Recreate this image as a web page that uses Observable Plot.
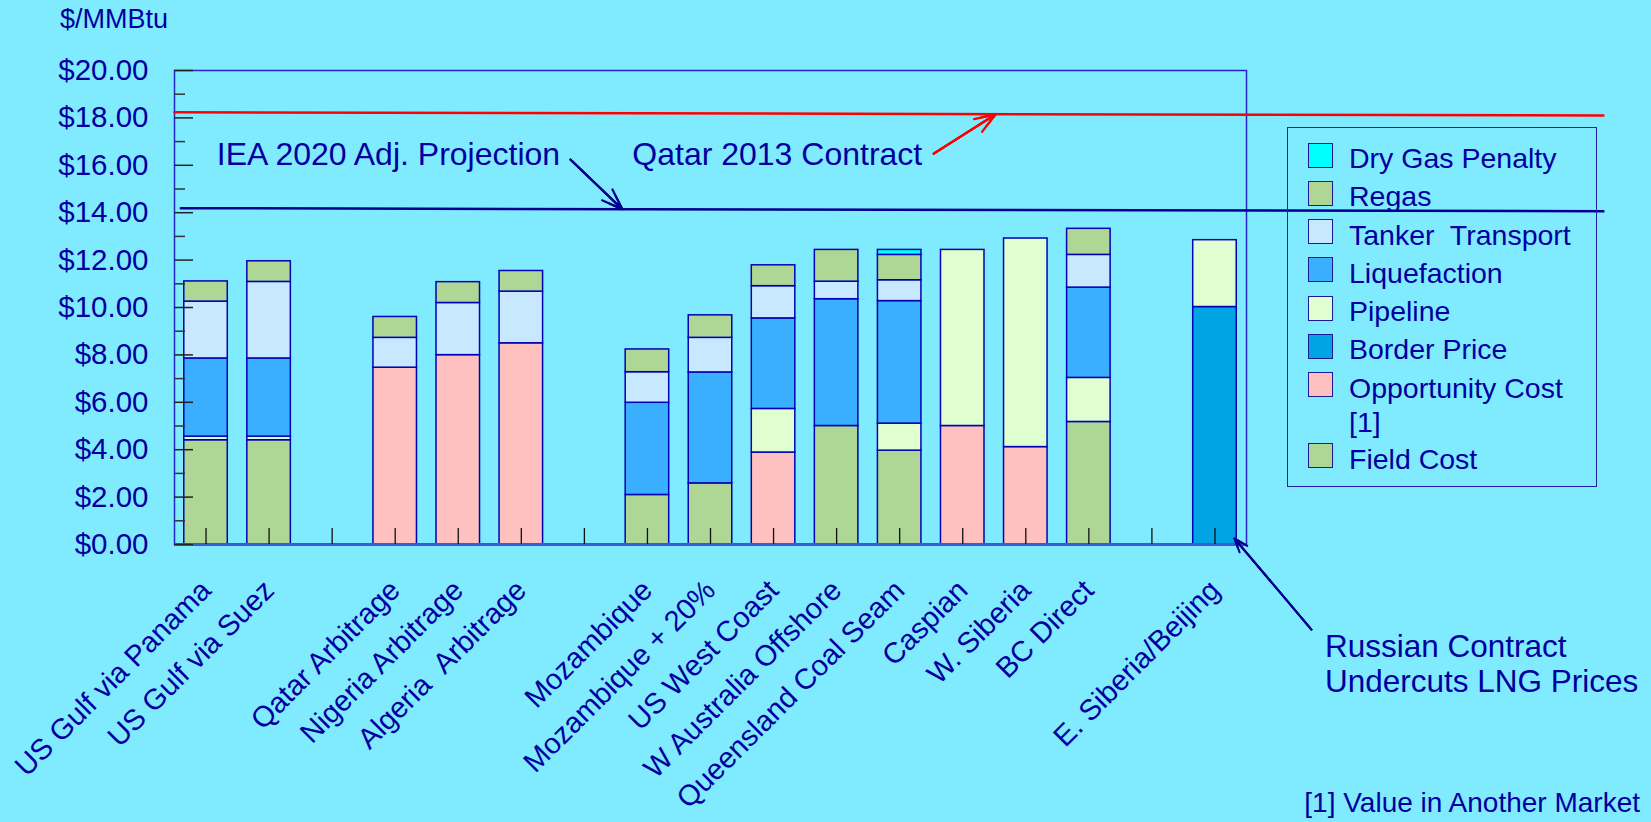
<!DOCTYPE html>
<html><head><meta charset="utf-8">
<script src="https://cdn.jsdelivr.net/npm/d3@7"></script>
<script src="https://cdn.jsdelivr.net/npm/@observablehq/plot@0.6"></script>
<style>
html,body{margin:0;padding:0;background:#80ebff;}
#wrap{position:relative;width:1651px;height:822px;overflow:hidden;font-family:"Liberation Sans",Arial,sans-serif;color:#0000a0;background:#80ebff;}
#chart{position:absolute;left:0;top:0;}
.abs{position:absolute;white-space:pre;}
#legend{position:absolute;left:1287px;top:127px;width:310px;height:360px;border:1.5px solid #2020a8;box-sizing:border-box;}
.sw{position:absolute;left:20px;width:25px;height:25px;box-sizing:border-box;border:1.5px solid #1a1a9a;}
.lt{position:absolute;left:61px;font-size:28.5px;line-height:34px;white-space:pre;}
</style></head>
<body><div id="wrap"><div id="chart"></div>
<div class="abs" style="left:60px;top:4px;font-size:27px;">$/MMBtu</div>
<div id="legend"></div>
<div class="abs" style="left:1325px;top:629px;font-size:31.5px;line-height:35px;">Russian Contract
Undercuts LNG Prices</div>
<div class="abs" style="right:11px;top:787px;font-size:28px;line-height:1.149;">[1] Value in Another Market</div>
</div>
<script>
// ---- data ----
const categories = ["US Gulf via Panama","US Gulf via Suez","","Qatar Arbitrage","Nigeria Arbitrage","Algeria \u00a0Arbitrage","","Mozambique","Mozambique + 20%","US West Coast","W Australia Offshore","Queensland Coal Seam","Caspian","W. Siberia","BC Direct","","E. Siberia/Beijing"];
const fieldCost       = [4.40,4.40,0,0,0,0,0,2.09,2.58,0,5.00,3.96,0,0,5.17,0,0];
const opportunityCost = [0,0,0,7.46,7.99,8.49,0,0,0,3.88,0,0,5.00,4.11,0,0,0];
const borderPrice     = [0,0,0,0,0,0,0,0,0,0,0,0,0,0,0,0,10.02];
const pipeline        = [0.15,0.15,0,0,0,0,0,0,0,1.84,0,1.14,7.43,8.80,1.86,0,2.82];
const liquefaction    = [3.30,3.30,0,0,0,0,0,3.89,4.68,3.82,5.35,5.17,0,0,3.81,0,0];
const tankerTransport = [2.40,3.23,0,1.26,2.20,2.18,0,1.29,1.46,1.36,0.74,0.88,0,0,1.38,0,0];
const regas           = [0.85,0.87,0,0.88,0.88,0.87,0,0.96,0.95,0.88,1.34,1.07,0,0,1.10,0,0];
const dryGasPenalty   = [0,0,0,0,0,0,0,0,0,0,0,0.21,0,0,0,0,0];

const seriesNames  = ["Field Cost","Opportunity Cost","Border Price","Pipeline","Liquefaction","Tanker  Transport","Regas","Dry Gas Penalty"];
const seriesColors = ["#aed694","#ffc0c0","#00a4e4","#e0ffd0","#3aaeff","#c8e8ff","#aed694","#00ffff"];
const legendLabels = ["Dry Gas Penalty","Regas","Tanker  Transport","Liquefaction","Pipeline","Border Price","Opportunity Cost\n[1]","Field Cost"];
const legendColors = ["#00ffff","#aed694","#c8e8ff","#3aaeff","#e0ffd0","#00a4e4","#ffc0c0","#aed694"];

const yTicks = [0,2,4,6,8,10,12,14,16,18,20];
const yMinor = [1,3,5,7,9,11,13,15,17,19];

const qatarContract = [{x:-0.5,y:18.24},{x:22.16,y:18.10}];
const ieaProjection = [{x:-0.4,y:14.19},{x:22.16,y:14.06}];
const labels = [
  {x:0.17, y:16.45, text:"IEA 2020 Adj. Projection"},
  {x:6.76, y:16.45, text:"Qatar 2013 Contract"}
];
const ieaArrow = [{x1:5.78,y1:16.24,x2:6.60,y2:14.15}];
const qatarArrow = [{x1:11.54,y1:16.49,x2:12.52,y2:18.15}];
const russianArrow = [{x1:17.53,y1:-3.59,x2:16.31,y2:0.25}];

// ---- build stacked table ----
const seriesValues = [fieldCost,opportunityCost,borderPrice,pipeline,liquefaction,tankerTransport,regas,dryGasPenalty];
const rows = [];
categories.forEach((c,i)=>{
  let base = 0;
  seriesNames.forEach((s,k)=>{
    const v = seriesValues[k][i];
    if (v > 0) { rows.push({slot:i, series:s, y1:base, y2:base+v}); base += v; }
  });
});
const slots = d3.range(categories.length);

const W=1651,H=822,mL=174,mT=70,mR=405,mB=278;
const frameW=W-mL-mR, frameH=H-mT-mB;
const half=0.345;
const navy="#000090", txt="#0000a0";

// filled-looking arrowheads: nested chevrons sharing the same tip
function solidArrow(data, stroke, strokeWidth) {
  return [15,11,7,3].map((hl,k)=>Plot.arrow(data,{x1:"x1",y1:"y1",x2:"x2",y2:"y2",stroke,strokeWidth:k===0?strokeWidth:2,headLength:hl,headAngle:40}));
}

const chart = Plot.plot({
  width:W,height:H,marginLeft:mL,marginRight:mR,marginTop:mT,marginBottom:mB,
  style:{background:"transparent",color:txt,fontFamily:"'Liberation Sans', Arial, sans-serif",overflow:"visible"},
  x:{type:"linear",domain:[-0.5,categories.length-0.5],axis:null},
  y:{domain:[0,20],axis:null},
  color:{domain:seriesNames,range:seriesColors},
  marks:[
    Plot.rect(rows,{x1:d=>d.slot-half,x2:d=>d.slot+half,y1:"y1",y2:"y2",fill:"series",stroke:"#0000b4",strokeWidth:1.5}),
    Plot.frame({stroke:"#2424c8",strokeWidth:1.5}),
    Plot.ruleY([0],{stroke:"#3a5ad8",strokeWidth:3}),
    Plot.tickY(yMinor,{y:d=>d,insetRight:frameW-11,stroke:"#333",strokeWidth:1.5}),
    Plot.tickY(yTicks,{y:d=>d,insetRight:frameW-19,stroke:"#222",strokeWidth:1.5}),
    Plot.tickX(slots,{x:d=>d,insetTop:frameH-16,stroke:"#111",strokeWidth:1.3}),
    Plot.axisY({ticks:yTicks,tickFormat:d=>"$"+d.toFixed(2),tickSize:0,tickPadding:26,fontSize:29.5}),
    Plot.axisX({ticks:slots,tickFormat:i=>categories[i],tickRotate:-45,tickSize:0,tickPadding:41,dx:0,fontSize:29}),
    Plot.line(qatarContract,{x:"x",y:"y",stroke:"#ff0000",strokeWidth:2.5}),
    Plot.line(ieaProjection,{x:"x",y:"y",stroke:navy,strokeWidth:2.5}),
    ...solidArrow(ieaArrow,navy,2.2),
    ...solidArrow(qatarArrow,"#ff0000",2.2),
    ...solidArrow(russianArrow,navy,1.3),
    Plot.text(labels,{x:"x",y:"y",text:"text",textAnchor:"start",fontSize:32,fill:txt})
  ]
});
document.getElementById("chart").appendChild(chart);

// ---- legend ----
const leg = document.getElementById("legend");
legendLabels.forEach((name,i)=>{
  const top = 14.5 + i*38.3 + (i===7 ? 32.7 : 0);
  const sw = document.createElement("div");
  sw.className="sw"; sw.style.top=top+"px"; sw.style.background=legendColors[i];
  leg.appendChild(sw);
  const t = document.createElement("div");
  t.className="lt"; t.style.top=(top-1.6)+"px"; t.textContent=name;
  leg.appendChild(t);
});
</script>
</body></html>
